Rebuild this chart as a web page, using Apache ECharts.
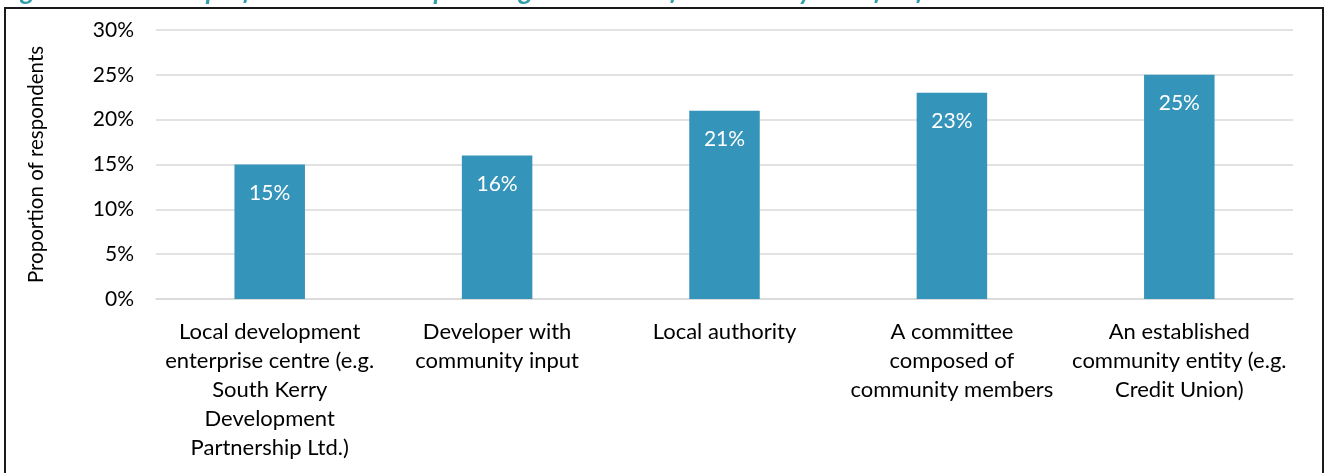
<!DOCTYPE html>
<html>
<head>
<meta charset="utf-8">
<script src="https://cdn.jsdelivr.net/npm/echarts@6/dist/echarts.min.js"></script>
<style>
  html, body { margin: 0; padding: 0; background: #fff; }
  #chart { width: 1328px; height: 473px; }
</style>
</head>
<body>
<div id="chart"></div>
<script>
// Governance options (category labels, pre-wrapped)
const categories = [
  'Local development\nenterprise centre (e.g.\nSouth Kerry\nDevelopment\nPartnership Ltd.)',
  'Developer with\ncommunity input',
  'Local authority',
  'A committee\ncomposed of\ncommunity members',
  'An established\ncommunity entity (e.g.\nCredit Union)'
];
// Share of respondents, in percent
const shares = [15, 16, 21, 23, 25];
// Value axis range and step, in percent
const axisMin = 0;
const axisMax = 30;
const axisStep = 5;

const titleText = 'Figure 4: Citizen\u2019s preferences with respect to governance of community benefits funds';
const FONT = 'Lato, "Open Sans", sans-serif';

const chart = echarts.init(document.getElementById('chart'));
chart.setOption({
  animation: false,
  backgroundColor: '#ffffff',
  textStyle: { fontFamily: FONT },
  graphic: [
    {
      type: 'text',
      style: {
        x: 0,
        y: -9,
        text: titleText,
        fill: '#349DAA',
        fontStyle: 'italic',
        fontWeight: 'bold',
        fontSize: 27,
        fontFamily: FONT,
        textVerticalAlign: 'middle',
        verticalAlign: 'middle'
      },
      silent: true
    },
    {
      type: 'rect',
      shape: { x: 5, y: 8, width: 1318, height: 480 },
      style: { fill: 'none', stroke: '#1a1a1a', lineWidth: 2 },
      silent: true
    }
  ],
  grid: { left: 156, right: 35, top: 30, bottom: 174 },
  xAxis: {
    type: 'category',
    data: categories,
    axisLine: { show: true, lineStyle: { color: '#D9D9D9', width: 1.5 } },
    axisTick: { show: false },
    axisLabel: {
      interval: 0,
      margin: 18,
      color: '#000',
      fontSize: 22,
      lineHeight: 29,
      fontFamily: FONT,
      align: 'center'
    }
  },
  yAxis: {
    type: 'value',
    min: axisMin,
    max: axisMax,
    interval: axisStep,
    name: 'Proportion of respondents',
    nameLocation: 'middle',
    nameGap: 109,
    nameRotate: 90,
    nameTextStyle: { color: '#000', fontSize: 20.5, fontFamily: FONT },
    axisLine: { show: false },
    axisTick: { show: false },
    axisLabel: {
      formatter: '{value}%',
      color: '#000',
      fontSize: 21,
      margin: 22,
      fontFamily: FONT
    },
    splitLine: { lineStyle: { color: '#D9D9D9', width: 1.5 } }
  },
  series: [{
    type: 'bar',
    data: shares,
    barWidth: '31%',
    itemStyle: { color: '#3494BA' },
    label: {
      show: true,
      position: 'insideTop',
      distance: 18,
      formatter: '{c}%',
      color: '#fff',
      fontSize: 21,
      fontFamily: FONT
    }
  }]
});
</script>
</body>
</html>
